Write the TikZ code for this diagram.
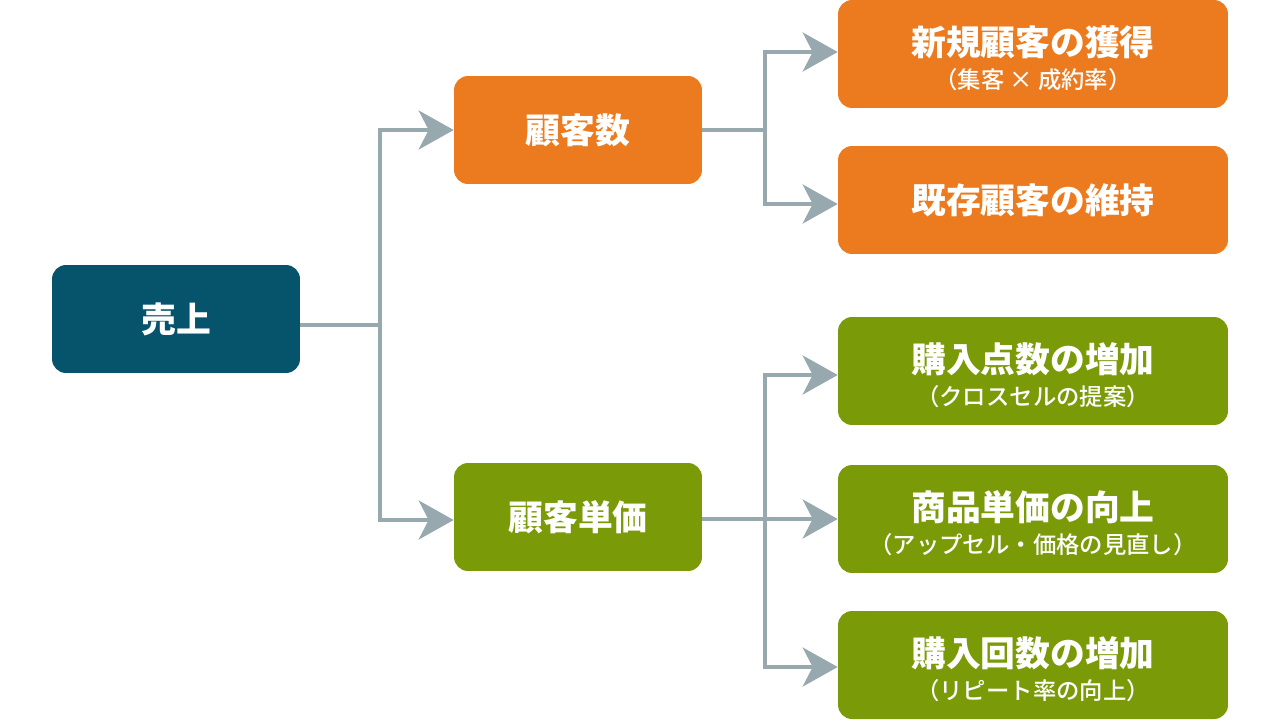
\documentclass[tikz,border=0pt]{standalone}
\usepackage{fontspec}
\setmainfont{Noto Sans CJK JP}
\newfontfamily\subfont{Noto Sans CJK JP Medium}
\usepackage{tikz}
\usetikzlibrary{arrows.meta}
\definecolor{teal}{HTML}{06546B}
\definecolor{orng}{HTML}{EC7B1F}
\definecolor{olive}{HTML}{7A9A08}
\definecolor{linegray}{HTML}{97A8AE}
\tikzset{
  Box/.style={rectangle, rounded corners=0.28cm, text=white, align=center,
    minimum height=2.16cm, inner sep=0pt,
    font=\fontsize{19.8pt}{22pt}\selectfont\bfseries}, % Grundform
  Klein/.style={Box, minimum width=4.96cm},  % linke und mittlere Kaesten
  Gross/.style={Box, minimum width=7.8cm},   % rechte Kaesten
  Link/.style={draw=linegray, line width=2.2pt, -{Stealth[length=0.7cm,width=0.78cm,inset=0.2cm]}}
}
% Titel mit Unterzeile
\newcommand{\zwei}[2]{\rule{0pt}{22pt}#1\\[-3pt]{\fontsize{13.3pt}{15pt}\subfont\mdseries #2}}
\begin{document}
\begin{tikzpicture}[x=0.02cm, y=-0.02cm]
\useasboundingbox (0,0) rectangle (1280,720);

%Kaesten
\node[Klein, fill=teal] (uri) at (176,319) {売上};
\node[Klein, fill=orng] (kyakusu) at (578,130) {顧客数};
\node[Klein, fill=olive] (tanka) at (578,517) {顧客単価};

\node[Gross, fill=orng] (shinki) at (1033,54) {\zwei{新規顧客の獲得}{（集客 × 成約率）}};
\node[Gross, fill=orng] (kizon) at (1033,200) {既存顧客の維持};
\node[Gross, fill=olive] (tensu) at (1033,371) {\zwei{購入点数の増加}{（クロスセルの提案）}};
\node[Gross, fill=olive] (shohin) at (1033,519) {\zwei{商品単価の向上}{（アップセル・価格の見直し）}};
\node[Gross, fill=olive] (kaisu) at (1033,665) {\zwei{購入回数の増加}{（リピート率の向上）}};

%Verzweigungen
\coordinate (j1) at (380,325);
\coordinate (j2) at (765,130);
\coordinate (j3) at (765,519);

%Verbindungen
\draw[Link] (uri.east |- j1) -- (j1) |- (kyakusu.west);
\draw[Link] (uri.east |- j1) -- (j1) |- ([yshift=-0.06cm]tanka.west);

\draw[Link] (kyakusu.east) -- (j2) |- ([yshift=0.04cm]shinki.west);
\draw[Link] (kyakusu.east) -- (j2) |- ([yshift=-0.08cm]kizon.west);

\draw[Link] (tanka.east |- j3) -- (j3) |- ([yshift=-0.08cm]tensu.west);
\draw[Link] (tanka.east |- j3) -- (shohin.west);
\draw[Link] (tanka.east |- j3) -- (j3) |- ([yshift=-0.04cm]kaisu.west);

\end{tikzpicture}
\end{document}
